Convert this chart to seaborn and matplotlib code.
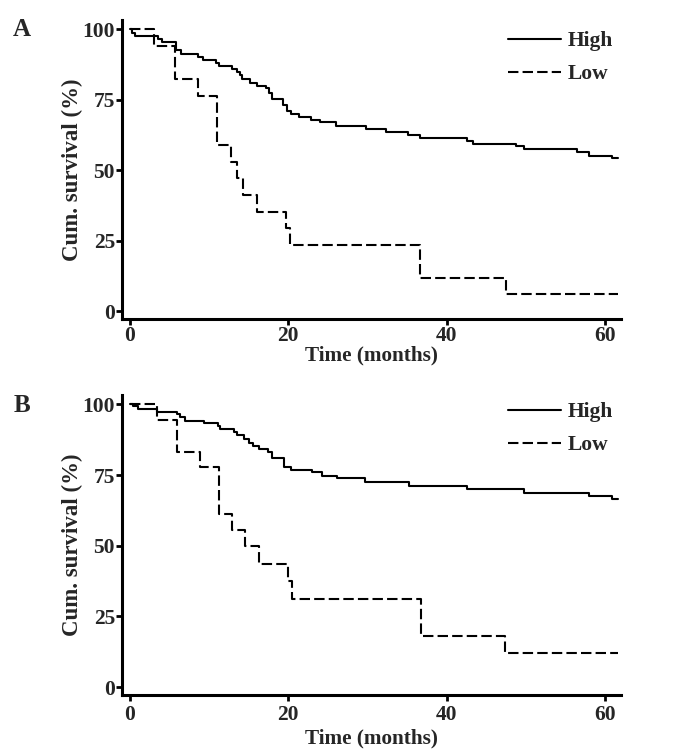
import numpy as np
import pandas as pd
import matplotlib
matplotlib.use("Agg")
import matplotlib.pyplot as plt
import seaborn as sns

# ---- data ----
a_high_t = [0, 0.3, 0.6, 3.6, 4.1, 5.8, 6.5, 8.6, 9.2, 10.9, 11.3, 12.9, 13.5, 13.9, 14.2,
            15.1, 16.0, 17.2, 17.6, 17.9, 19.3, 19.8, 20.3, 21.4, 22.8, 24.0, 26.0, 29.8,
            32.3, 35.1, 36.6, 42.5, 43.3, 48.8, 49.7, 56.4, 58.0, 60.9, 61.6]
a_high_s = [100, 98.8, 97.6, 96.6, 95.4, 92.6, 91.4, 90.2, 89.2, 88.1, 87.0, 86.0, 84.9, 83.7, 82.5,
            80.8, 79.9, 79.0, 77.3, 75.3, 73.2, 71.1, 69.9, 69.0, 67.9, 67.0, 65.7, 64.7,
            63.5, 62.6, 61.4, 60.5, 59.3, 58.5, 57.5, 56.4, 55.2, 54.3, 54.3]
a_low_t = [0, 3.1, 5.7, 8.6, 11.0, 12.7, 13.5, 14.3, 16.0, 19.7, 20.2, 36.6, 47.5, 61.6]
a_low_s = [100, 94.1, 82.4, 76.5, 58.8, 52.9, 47.1, 41.2, 35.3, 29.4, 23.5, 11.8, 5.9, 5.9]

b_high_t = [0, 0.4, 1.0, 3.4, 6.0, 6.3, 6.9, 9.3, 11.1, 11.4, 13.2, 13.5, 14.4, 15.0, 15.5,
            16.3, 17.4, 18.0, 19.5, 20.3, 23.0, 24.2, 26.1, 29.7, 35.2, 42.5, 49.8, 58.0,
            60.9, 61.6]
b_high_s = [100, 99.3, 98.3, 97.4, 96.6, 95.4, 94.2, 93.4, 92.2, 91.2, 90.3, 89.1, 87.9, 86.5, 85.1,
            84.1, 83.0, 80.9, 78.0, 76.8, 75.9, 74.7, 73.8, 72.4, 71.1, 70.0, 68.8, 67.6,
            66.4, 66.4]
b_low_t = [0, 3.4, 6.0, 8.9, 11.3, 12.9, 14.5, 16.3, 19.9, 20.4, 36.7, 47.4, 61.6]
b_low_s = [100, 94.4, 83.3, 77.8, 61.1, 55.6, 50.0, 43.4, 37.4, 31.0, 18.2, 12.1, 12.1]

groups = ["High", "Low"]
panel_labels = ["A", "B"]
x_ticks = [0, 20, 40, 60]
y_ticks = [0, 25, 50, 75, 100]
x_label = "Time (months)"
y_label = "Cum. survival (%)"


def make_df(ht, hs, lt, ls):
    return pd.concat([
        pd.DataFrame({"t": ht, "s": hs, "group": groups[0]}),
        pd.DataFrame({"t": lt, "s": ls, "group": groups[1]}),
    ], ignore_index=True)


dfs = [make_df(a_high_t, a_high_s, a_low_t, a_low_s),
       make_df(b_high_t, b_high_s, b_low_t, b_low_s)]

sns.set_style("ticks")
plt.rcParams["font.family"] = ["Liberation Serif", "DejaVu Serif"]
plt.rcParams["font.weight"] = "bold"

W, H = 688, 749
fig = plt.figure(figsize=(W / 100, H / 100), dpi=100)

# axes boxes in pixels: (left, top, right, bottom)
boxes = [(122, 20, 621, 319), (122, 395, 621, 695)]
label_pos = [(22, 29), (22, 405)]
leg_top = [31, 402]
xtick_pad = [1, 3]
xlab_pad = [0, 3]

for i, (df, box) in enumerate(zip(dfs, boxes)):
    l, t, r, b = box
    ax = fig.add_axes([l / W, 1 - b / H, (r - l) / W, (b - t) / H])
    sns.lineplot(data=df, x="t", y="s", hue="group", style="group",
                 palette={"High": "black", "Low": "black"},
                 dashes={"High": "", "Low": (5, 2)},
                 estimator=None, sort=False, drawstyle="steps-post",
                 linewidth=1.5, ax=ax, legend=True)
    ax.set_xlim(-1, 62)
    ax.set_ylim(-2.8, 103.3)
    ax.set_xticks(x_ticks)
    ax.set_yticks(y_ticks)
    ax.set_xticklabels([str(v) for v in x_ticks], fontsize=15.5, fontweight="bold")
    ax.set_yticklabels([str(v) for v in y_ticks], fontsize=15.5, fontweight="bold")
    ax.tick_params(axis="both", length=4, width=2, color="black")
    ax.tick_params(axis="x", pad=xtick_pad[i])
    ax.tick_params(axis="y", pad=1)
    ax.set_xlabel(x_label, fontsize=15.3, fontweight="bold", labelpad=xlab_pad[i])
    ax.set_ylabel(y_label, fontsize=16.5, fontweight="bold", labelpad=0)
    for side in ["top", "right"]:
        ax.spines[side].set_visible(False)
    for side in ["left", "bottom"]:
        ax.spines[side].set_linewidth(2.2)
        ax.spines[side].set_color("black")
    handles, labels = ax.get_legend_handles_labels()
    leg = ax.legend(handles, labels, loc="upper right", frameon=False,
                    bbox_to_anchor=(613 / W, 1 - leg_top[i] / H), bbox_transform=fig.transFigure,
                    borderpad=0, borderaxespad=0, handlelength=2.45, handletextpad=0.3,
                    labelspacing=0.62, prop={"family": "Liberation Serif", "weight": "bold", "size": 15.5})
    for lh in leg.get_lines():
        lh.set_linewidth(1.5)
    fig.text(label_pos[i][0] / W, 1 - label_pos[i][1] / H, panel_labels[i],
             fontsize=18, fontweight="bold", ha="center", va="center")

fig.savefig("out.png", dpi=100)
